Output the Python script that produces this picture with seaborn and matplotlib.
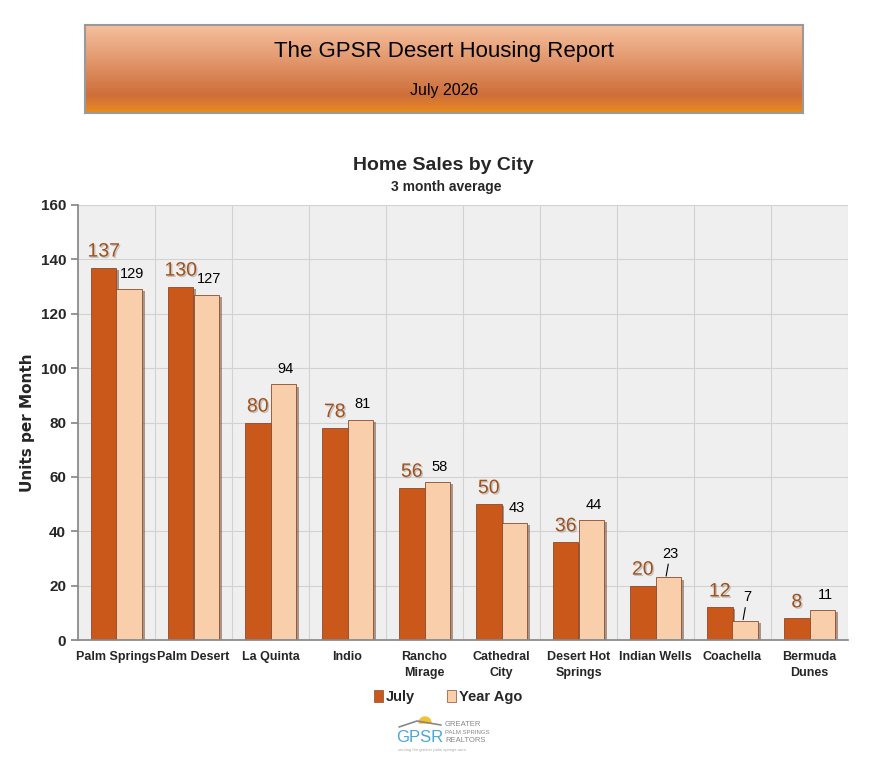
import numpy as np
import pandas as pd
import matplotlib
matplotlib.use("Agg")
import matplotlib.pyplot as plt
from matplotlib.patches import Wedge
import matplotlib.patheffects as pe
import seaborn as sns

cities = ["Palm Springs", "Palm Desert", "La Quinta", "Indio", "Rancho\nMirage",
          "Cathedral\nCity", "Desert Hot\nSprings", "Indian Wells", "Coachella", "Bermuda\nDunes"]
july = [137, 130, 80, 78, 56, 50, 36, 20, 12, 8]
year_ago = [129, 127, 94, 81, 58, 43, 44, 23, 7, 11]
series = ["July", "Year Ago"]
yticks = [0, 20, 40, 60, 80, 100, 120, 140, 160]

sns.set_theme(style="white")
FAM = ["Liberation Sans", "DejaVu Sans"]
plt.rcParams["font.family"] = FAM

df = pd.DataFrame({
    "City": cities * 2,
    "Series": [series[0]] * len(cities) + [series[1]] * len(cities),
    "Units": july + year_ago,
})

fig = plt.figure(figsize=(8.87, 7.71), dpi=100)
W, H = 887, 771

# ---- Banner ----
bax = fig.add_axes([85 / W, 1 - 113 / H, 718 / W, 88 / H])
grad = np.linspace(0, 1, 256)
top = np.array([0xF6, 0xC0, 0x9E]) / 255
mid = np.array([0xCE, 0x6E, 0x3A]) / 255
bot = np.array([0xEB, 0x8C, 0x1E]) / 255
cols = []
for g in grad:
    if g < 0.8:
        t = g / 0.8
        cols.append(top * (1 - t) + mid * t)
    else:
        t = (g - 0.8) / 0.2
        cols.append(mid * (1 - t) + bot * t)
img = np.array(cols)[:, None, :].repeat(4, axis=1)
bax.imshow(img, aspect="auto", extent=[0, 1, 0, 1], origin="upper")
bax.set_xlim(0, 1)
bax.set_ylim(0, 1)
bax.set_xticks([])
bax.set_yticks([])
for s in bax.spines.values():
    s.set_color("#9a9a9a")
    s.set_linewidth(1.5)
bax.text(0.5, 0.70, "The GPSR Desert Housing Report", ha="center", va="center",
         fontsize=16, color="black", family=FAM)
bax.text(0.5, 0.26, "July 2026", ha="center", va="center", fontsize=11.5,
         color="black", family=FAM)

# ---- Chart ----
ax = fig.add_axes([78 / W, 1 - 640 / H, 770 / W, 435 / H])
ax.set_facecolor("#efefef")
palette = {"July": "#c9581a", "Year Ago": "#f8cfaa"}
sns.barplot(data=df, x="City", y="Units", hue="Series", palette=palette,
            width=0.66, ax=ax, edgecolor="#8b4a2b", linewidth=0.6, saturation=1,
            legend=True)
shadow = [pe.SimplePatchShadow(offset=(2, -1.5), shadow_rgbFace="#7a5a48", alpha=0.6),
          pe.Normal()]
for cont in ax.containers:
    for bar in cont:
        bar.set_path_effects(shadow)
ax.set_ylim(0, 160)
ax.set_xlim(-0.5, len(cities) - 0.5)
ax.set_yticks(yticks)
ax.set_yticklabels([str(v) for v in yticks], fontsize=11, fontweight="bold")
ax.set_xticks(range(len(cities)))
ax.set_xticklabels(cities, fontsize=9, fontweight="bold", linespacing=1.45)
ax.set_xticks(np.arange(-0.5, len(cities), 1), minor=True)
ax.tick_params(axis="x", which="major", length=0, pad=8)
ax.tick_params(axis="x", which="minor", length=5, color="#888888", direction="out")
ax.tick_params(axis="y", length=5, color="#888888", direction="out", left=True)
ax.grid(False)
for v in yticks[1:]:
    ax.axhline(v, color="#d2d2d2", lw=0.8, zorder=0)
for xb in np.arange(0.5, len(cities) - 0.5, 1):
    ax.axvline(xb, color="#d2d2d2", lw=0.8, zorder=0)
ax.axvline(len(cities) - 0.5, color="#d2d2d2", lw=0.8, zorder=0)
ax.set_axisbelow(True)
for s in ["top", "right"]:
    ax.spines[s].set_visible(False)
for s in ["left", "bottom"]:
    ax.spines[s].set_color("#888888")
ax.set_xlabel("")
ax.set_ylabel("Units per Month", fontsize=11, fontweight="bold", labelpad=4,
              family=["DejaVu Sans"])

# data labels
containers = ax.containers
jb, yb = containers[0], containers[1]
for i, bar in enumerate(jb):
    x = bar.get_x() + bar.get_width() / 2
    ax.annotate(str(july[i]), (x, bar.get_height()), xytext=(0, 5),
                textcoords="offset points", ha="center", va="bottom",
                fontsize=14, color="#a0521d", family=FAM,
                path_effects=[pe.withSimplePatchShadow(offset=(1, -1), shadow_rgbFace="#999999", alpha=0.5)])
for i, bar in enumerate(yb):
    x = bar.get_x() + bar.get_width() / 2
    h = bar.get_height()
    if year_ago[i] in (23, 7):
        ax.annotate(str(year_ago[i]), (x - 0.03, h), xytext=(3, 12),
                    textcoords="offset points", ha="center", va="bottom",
                    fontsize=10.5, color="black", family=FAM,
                    arrowprops=dict(arrowstyle="-", color="black", lw=0.8,
                                    shrinkA=0, shrinkB=1))
    else:
        ax.annotate(str(year_ago[i]), (x, h), xytext=(2, 6),
                    textcoords="offset points", ha="center", va="bottom",
                    fontsize=10.5, color="black", family=FAM)

# legend
leg = ax.get_legend()
if leg is not None:
    leg.remove()
handles = [plt.Rectangle((0, 0), 1, 1, facecolor=palette[s], edgecolor="#8b4a2b", lw=0.5)
           for s in series]
fig.legend(handles, series, loc="center", bbox_to_anchor=(448 / W, 1 - 697 / H),
           ncol=2, frameon=False, handlelength=0.6, handleheight=0.8,
           handletextpad=0.2, columnspacing=2.2,
           prop={"family": FAM, "weight": "bold", "size": 10.5})

# titles
fig.text(443 / W, 1 - 165 / H, "Home Sales by City", ha="center", va="center",
         fontsize=14, fontweight="bold", family=FAM)
fig.text(446 / W, 1 - 187 / H, "3 month average", ha="center", va="center",
         fontsize=10, fontweight="bold", family=FAM)

# logo (pixel coordinates inside a small axes)
lax = fig.add_axes([395 / W, 1 - 755 / H, 110 / W, 40 / H])
lax.set_xlim(0, 110)
lax.set_ylim(0, 40)
lax.axis("off")
lax.add_patch(Wedge((30, 32), 6, 0, 180, color="#f2c230"))
lax.plot([4, 22, 46], [28, 34, 30], color="#888888", lw=1.2)
lax.text(1, 18, "GPSR", fontsize=12, color="#4aa6d8", va="center", ha="left",
         family=FAM)
lax.text(50, 31, "GREATER", fontsize=5.5, color="#888888", va="center", family=FAM)
lax.text(50, 23, "PALM SPRINGS", fontsize=4.3, color="#888888", va="center", family=FAM)
lax.text(50, 15, "REALTORS", fontsize=5.5, color="#888888", va="center", family=FAM)
lax.text(3, 5, "serving the greater palm springs area", fontsize=3, color="#aaaaaa",
         va="center", family=FAM)

fig.savefig("out.png", dpi=100)
